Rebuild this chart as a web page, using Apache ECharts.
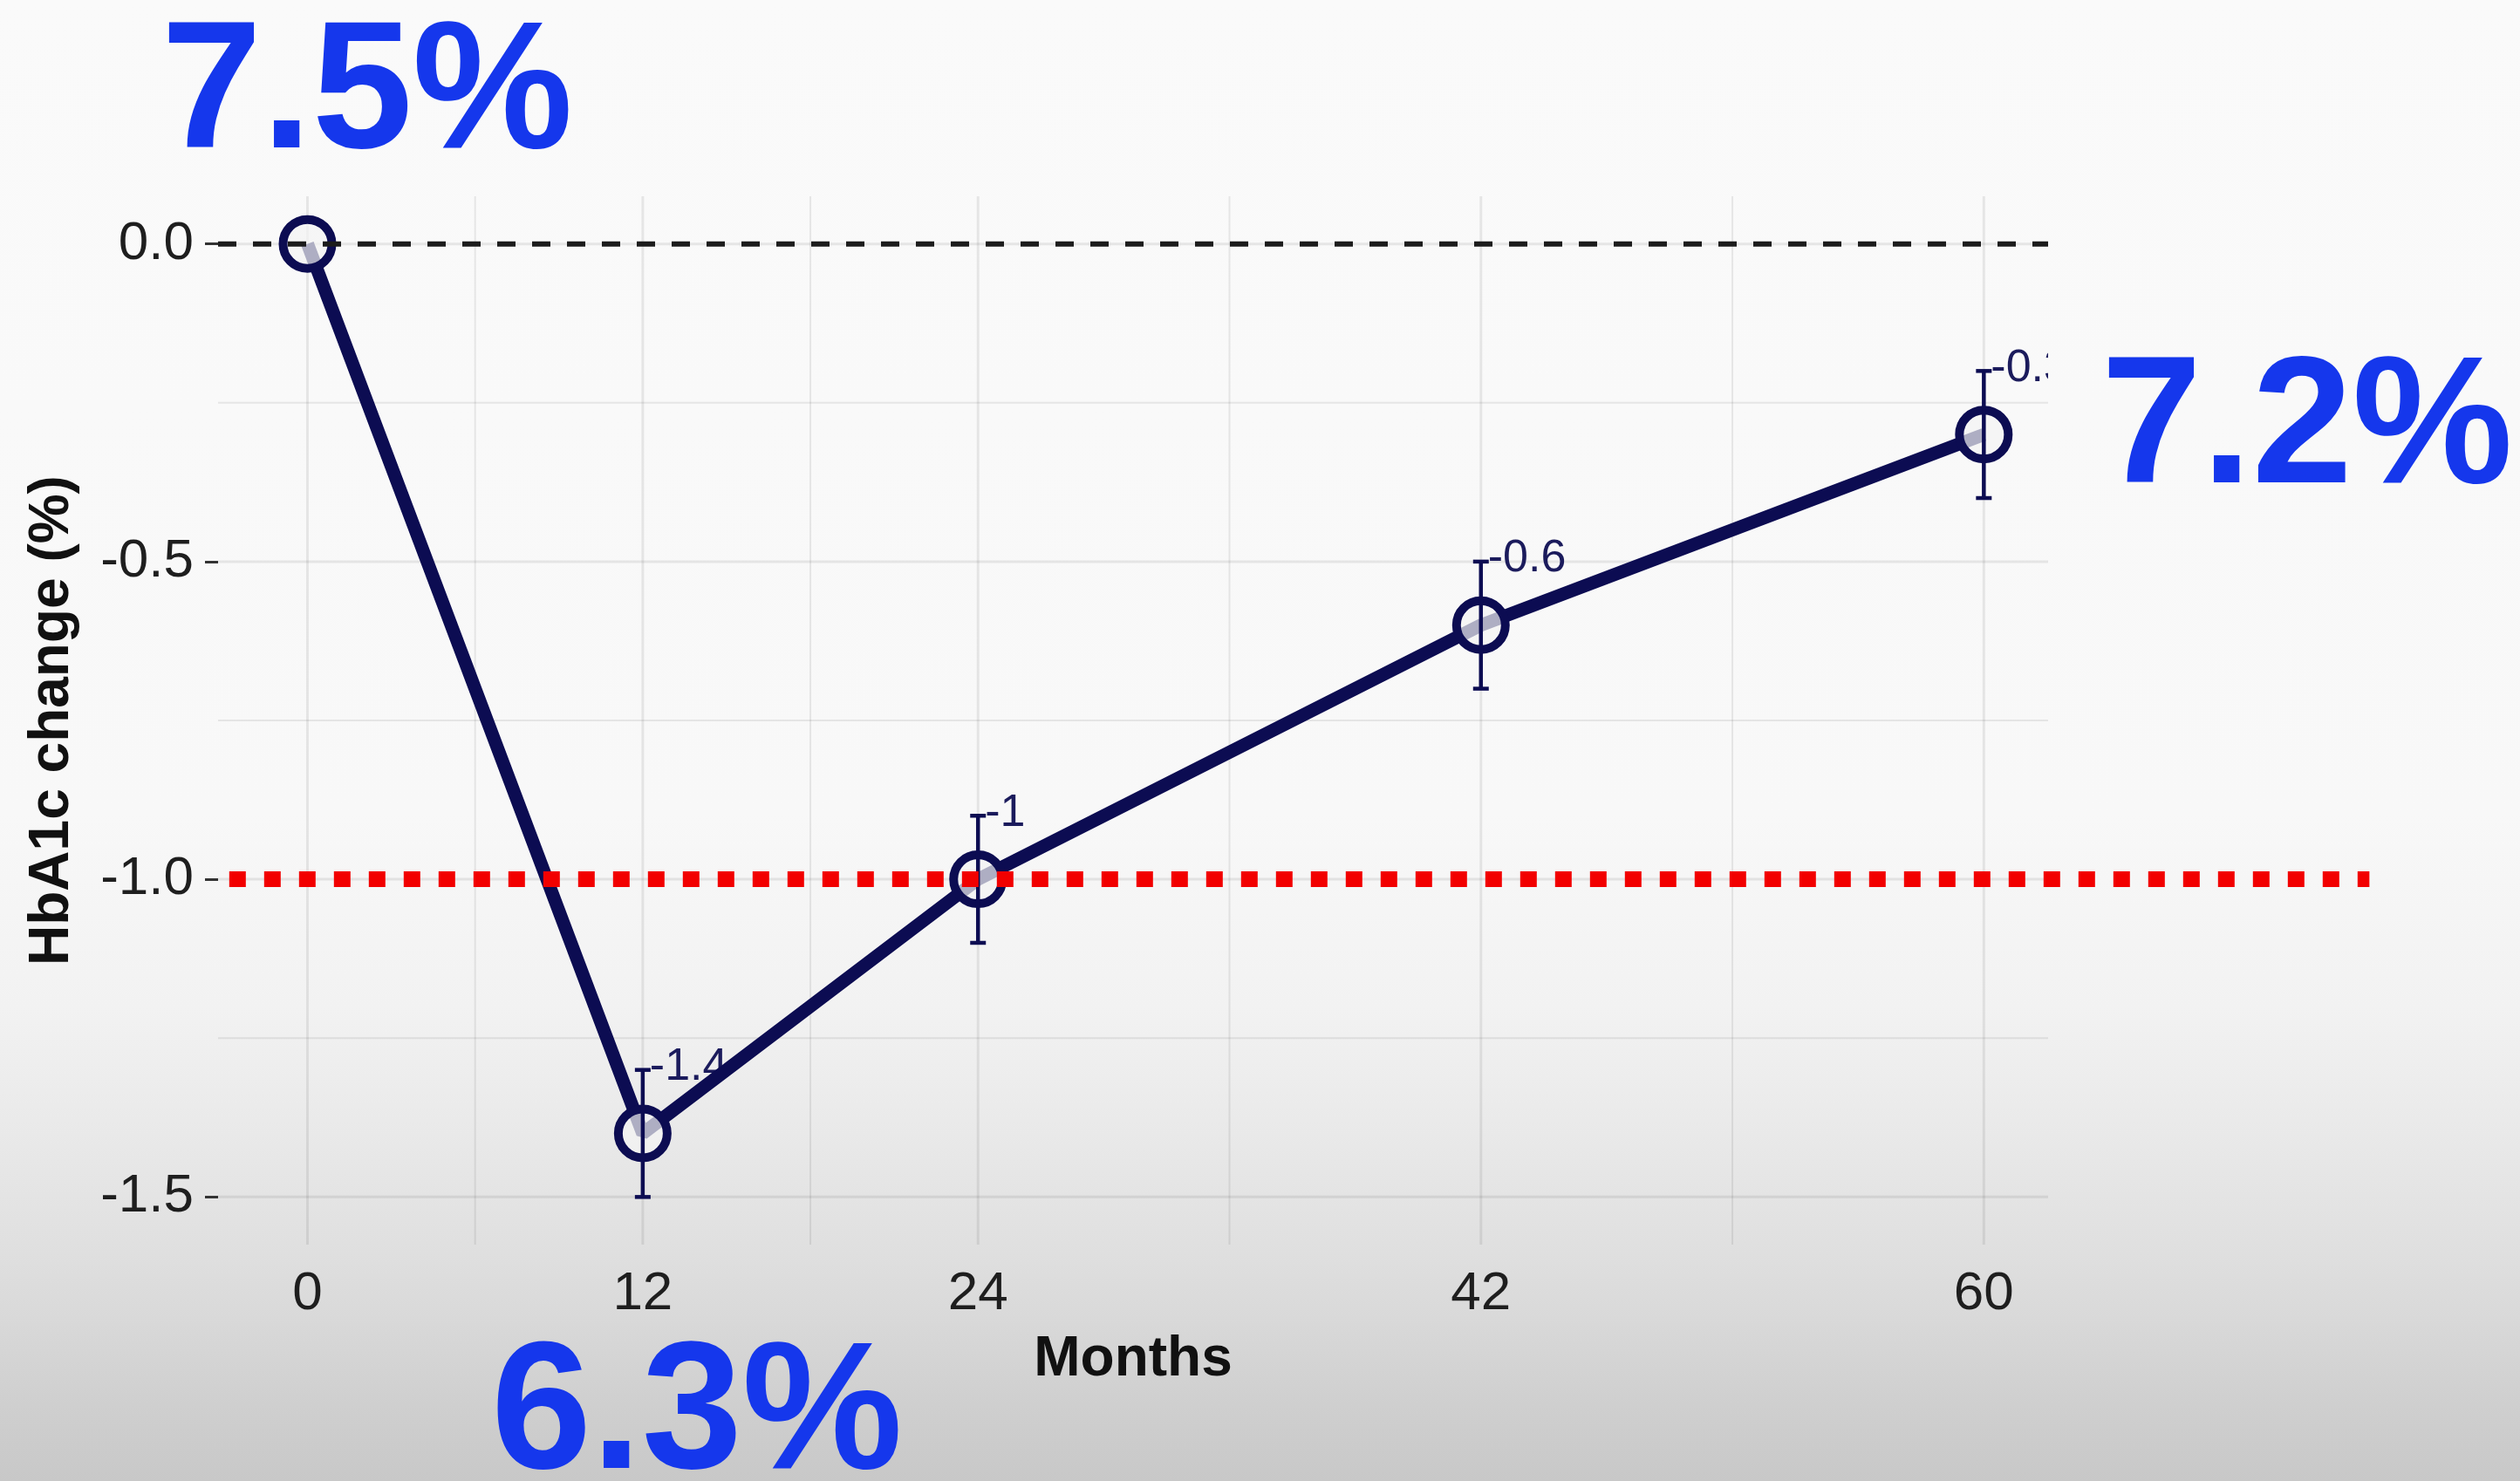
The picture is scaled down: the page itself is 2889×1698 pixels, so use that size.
<!DOCTYPE html>
<html>
<head>
<meta charset="utf-8">
<script src="https://cdn.jsdelivr.net/npm/echarts@6/dist/echarts.min.js"></script>
<style>
html,body{margin:0;padding:0;width:2889px;height:1698px;overflow:hidden;}
#c{width:2889px;height:1698px;}
</style>
</head>
<body>
<div id="c"></div>
<script>
// ---- data ----
const months = [0, 12, 24, 42, 60];
const hba1cChange = [0, -1.4, -1.0, -0.6, -0.3];
const errLower = [0, -1.5, -1.1, -0.7, -0.4];
const errUpper = [0, -1.3, -0.9, -0.5, -0.2];
const pointLabels = ['', '-1.4', '-1', '-0.6', '-0.3'];
const xTicks = [0, 12, 24, 42, 60];
const xMinor = [6, 18, 33, 51];
const yTicks = [0, -0.5, -1.0, -1.5];
const yMinor = [-0.25, -0.75, -1.25];
const zeroLine = 0;
const targetLine = -1.0;
const targetLineEnd = 73.8;
const bigLabels = ['7.5%', '6.3%', '7.2%'];
const xTitle = 'Months';
const yTitle = 'HbA1c change (%)';

// ---- layout / style ----
const X_MIN = -3.2, X_MAX = 62.3, Y_MIN = -1.575, Y_MAX = 0.075;
const NAVY = '#0c0c52';
const chart = echarts.init(document.getElementById('c'), null, {renderer: 'canvas'});

const gridV = xTicks.map(v => [v, 0, 1]).concat(xMinor.map(v => [v, 0, 0]));
const gridH = yTicks.map(v => [0, v, 1]).concat(yMinor.map(v => [0, v, 0]));

function gridVRender(params, api) {
  const cs = params.coordSys;
  const x = api.coord([api.value(0), 0])[0];
  return {type: 'line', shape: {x1: x, y1: cs.y, x2: x, y2: cs.y + cs.height},
    style: {stroke: 'rgba(0,0,0,0.08)', lineWidth: api.value(2) ? 3 : 2}};
}
function gridHRender(params, api) {
  const cs = params.coordSys;
  const y = api.coord([0, api.value(1)])[1];
  return {type: 'line', shape: {x1: cs.x, y1: y, x2: cs.x + cs.width, y2: y},
    style: {stroke: 'rgba(0,0,0,0.08)', lineWidth: api.value(2) ? 3 : 2}};
}

const errData = months.map((m, i) => [m, errLower[i], errUpper[i]]);
function errRender(params, api) {
  const lo = api.value(1), hi = api.value(2);
  if (lo === hi) return null;
  const p = api.coord([api.value(0), hi]);
  const q = api.coord([api.value(0), lo]);
  const st = {stroke: NAVY, lineWidth: 4.5};
  const cap = 9;
  return {type: 'group', children: [
    {type: 'line', shape: {x1: p[0], y1: p[1], x2: q[0], y2: q[1]}, style: st},
    {type: 'line', shape: {x1: p[0] - cap, y1: p[1], x2: p[0] + cap, y2: p[1]}, style: st},
    {type: 'line', shape: {x1: q[0] - cap, y1: q[1], x2: q[0] + cap, y2: q[1]}, style: st}
  ]};
}

const labelData = months.map((m, i) => [m, errUpper[i], i]);
function labelRender(params, api) {
  const idx = api.value(2);
  const txt = pointLabels[idx];
  if (!txt) return null;
  const p = api.coord([api.value(0), api.value(1)]);
  return {type: 'text', x: p[0] + 8, y: p[1] - 3,
    style: {text: txt, fill: '#1b1b5c', font: '52px "Liberation Sans", Arial, sans-serif',
      align: 'left', verticalAlign: 'middle'}};
}

const hlineData = [[X_MIN, zeroLine, X_MAX, 0], [X_MIN + 0.4, targetLine, targetLineEnd, 1]];
function hlineRender(params, api) {
  const a = api.coord([api.value(0), api.value(1)]);
  const b = api.coord([api.value(2), api.value(1)]);
  const red = api.value(3) === 1;
  return {type: 'line', shape: {x1: a[0], y1: a[1], x2: b[0], y2: b[1]},
    style: red ? {stroke: '#f20000', lineWidth: 18, lineDash: [19, 21], lineCap: 'butt'}
               : {stroke: '#1c1c1c', lineWidth: 6, lineDash: [21, 19], lineCap: 'butt'}};
}

const bigFont = 'bold 207px "Liberation Sans", Arial, sans-serif';
function bigText(txt, x, y) {
  return {type: 'text', x: x, y: y, z: 100,
    style: {text: txt, font: bigFont, fill: '#1537ec', align: 'left', verticalAlign: 'middle',
      shadowColor: 'rgba(0,0,40,0.6)', shadowBlur: 5, shadowOffsetX: 3, shadowOffsetY: 3}};
}

const option = {
  animation: false,
  backgroundColor: {type: 'linear', x: 0, y: 0, x2: 0, y2: 1, colorStops: [
    {offset: 0, color: '#fafafa'}, {offset: 0.55, color: '#f8f8f8'},
    {offset: 0.68, color: '#f2f2f2'}, {offset: 0.766, color: '#e9e9e9'},
    {offset: 0.824, color: '#e2e2e2'}, {offset: 0.883, color: '#dadada'},
    {offset: 0.942, color: '#d0d0d0'}, {offset: 1, color: '#c8c8c8'}]},
  grid: {left: 250, right: 541, top: 225, bottom: 271, containLabel: false},
  xAxis: {
    type: 'value', min: X_MIN, max: X_MAX,
    axisLine: {show: false, onZero: false}, axisTick: {show: false}, splitLine: {show: false},
    axisLabel: {customValues: xTicks, margin: 26, fontSize: 62, color: '#1e1e1e',
      fontFamily: '"Liberation Sans", Arial, sans-serif'},
    name: xTitle, nameLocation: 'middle', nameGap: 100,
    nameTextStyle: {fontSize: 64, fontWeight: 'bold', color: '#111',
      fontFamily: '"Liberation Sans", Arial, sans-serif'}
  },
  yAxis: {
    type: 'value', min: Y_MIN, max: Y_MAX,
    axisLine: {show: false, onZero: false}, splitLine: {show: false},
    axisTick: {show: true, customValues: yTicks, length: 15, lineStyle: {color: '#333', width: 3}},
    axisLabel: {customValues: yTicks, margin: 28, fontSize: 62, color: '#1e1e1e',
      fontFamily: '"Liberation Sans", Arial, sans-serif',
      formatter: v => v.toFixed(1)},
    name: yTitle, nameLocation: 'middle', nameGap: 158, nameRotate: 90,
    nameTextStyle: {fontSize: 64, fontWeight: 'bold', color: '#111',
      fontFamily: '"Liberation Sans", Arial, sans-serif'}
  },
  series: [
    {type: 'custom', z: 1, silent: true, renderItem: gridVRender, data: gridV, encode: {x: 0, y: 1}},
    {type: 'custom', z: 1, silent: true, renderItem: gridHRender, data: gridH, encode: {x: 0, y: 1}},
    {type: 'custom', z: 2, silent: true, clip: true, renderItem: labelRender, data: labelData, encode: {x: 0, y: 1}},
    {type: 'line', z: 3, silent: true, data: months.map((m, i) => [m, hba1cChange[i]]),
      symbol: 'circle', symbolSize: 56,
      lineStyle: {color: NAVY, width: 15},
      itemStyle: {color: 'rgba(244,244,244,0.7)', borderColor: NAVY, borderWidth: 10},
      emphasis: {disabled: true}},
    {type: 'custom', z: 4, silent: true, renderItem: errRender, data: errData, encode: {x: 0, y: [1, 2]}},
    {type: 'custom', z: 5, silent: true, clip: false, renderItem: hlineRender, data: hlineData, encode: {x: [0, 2], y: 1}}
  ],
  graphic: [
    bigText(bigLabels[0], 185, 112),
    bigText(bigLabels[1], 563, 1626),
    bigText(bigLabels[2], 2409, 496)
  ]
};
chart.setOption(option);
</script>
</body>
</html>
